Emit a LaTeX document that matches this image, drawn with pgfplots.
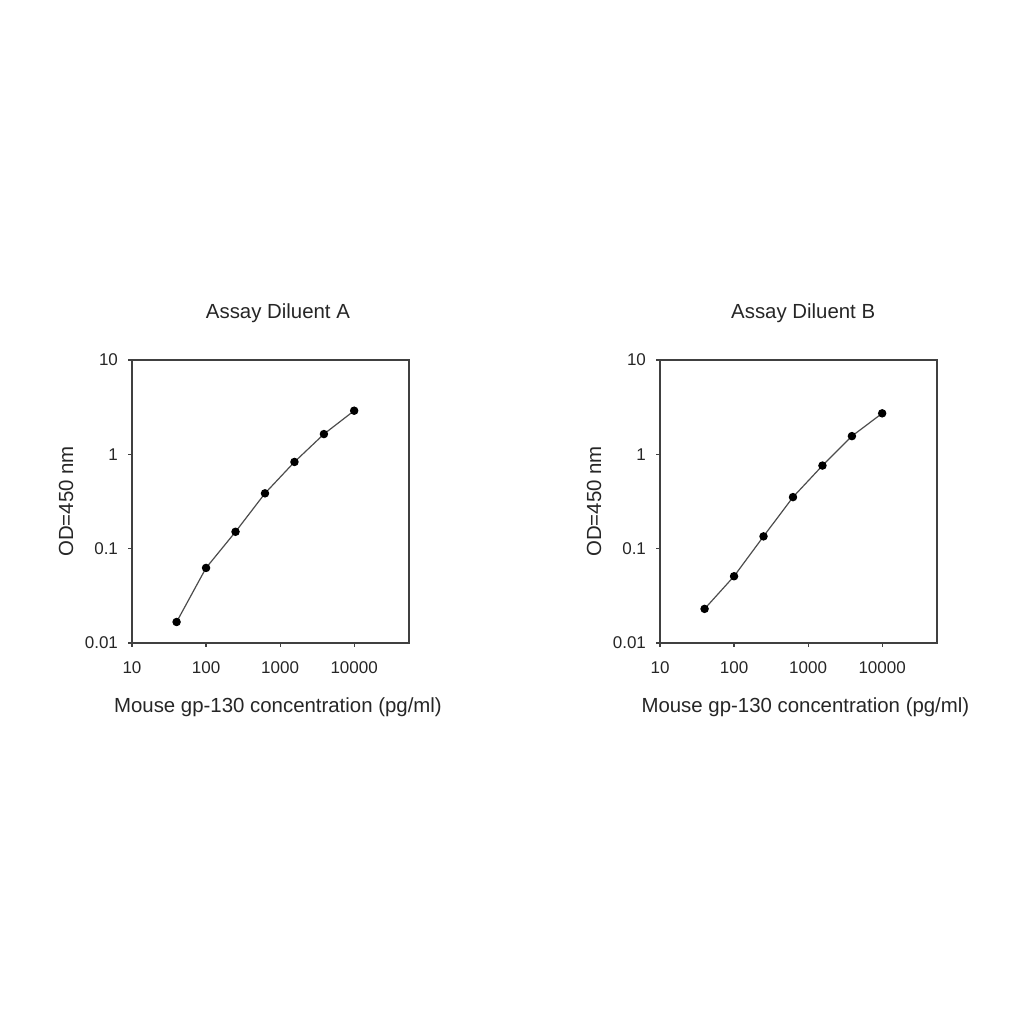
\documentclass[border=0pt]{standalone}
\usepackage{fontspec}
\setmainfont{Liberation Sans}
\usepackage{pgfplots}
\pgfplotsset{compat=1.18}

% shared look of both panels
\pgfplotsset{
    scale only axis, width=138.5pt, height=141.5pt,
    xmin=10, xmax=55000, ymin=0.01, ymax=10,
    xtick={10,100,1000,10000}, xticklabels={10,100,1000,10000},
    ytick={0.01,0.1,1,10}, yticklabels={0.01,0.1,1,10},
    xminorticks=false, yminorticks=false,
    tick align=outside, xtick pos=bottom, ytick pos=left,
    major tick length=2pt,
    axis line style={black!75, line width=0.6pt},
    major tick style={black!75, line width=0.6pt},
    tick label style={font=\fontsize{8.5}{10}\selectfont, black!85},
    xticklabel style={yshift=-4pt},
    yticklabel style={xshift=-1.5pt},
    label style={font=\fontsize{10.2}{12}\selectfont, black!85},
    title style={font=\fontsize{10.2}{12}\selectfont, black!85, anchor=base, yshift=14.8pt},
    xlabel style={anchor=base, yshift=-35pt},
    ylabel style={anchor=center, yshift=33pt},
}

\begin{document}
\begin{tikzpicture}
\path (0,0) rectangle (512pt,512pt);

\begin{loglogaxis}[at={(66pt,190.5pt)}, anchor=south west,
    title={Assay Diluent A}, title style={at={(rel axis cs:0.527,1)}},
    xlabel={Mouse gp-130 concentration (pg/ml)}, ylabel={OD=450 nm},
    xlabel style={at={(rel axis cs:0.527,0)}},
    ylabel style={at={(rel axis cs:0,0.5)}}]
\addplot[black!70, line width=0.6pt, mark=*, mark size=1.8pt,
    mark options={fill=black, draw=black}] coordinates {
(40,0.0167) (100,0.0625) (250,0.151) (625,0.386)
(1562.5,0.83) (3906.25,1.64) (10000,2.9)
};
\end{loglogaxis}

\begin{loglogaxis}[at={(330pt,190.5pt)}, anchor=south west,
    title={Assay Diluent B}, title style={at={(rel axis cs:0.517,1)}},
    xlabel={Mouse gp-130 concentration (pg/ml)}, ylabel={OD=450 nm},
    xlabel style={at={(rel axis cs:0.525,0)}},
    ylabel style={at={(rel axis cs:0,0.5)}}]
\addplot[black!70, line width=0.6pt, mark=*, mark size=1.8pt,
    mark options={fill=black, draw=black}] coordinates {
(40,0.023) (100,0.051) (250,0.135) (625,0.352)
(1562.5,0.76) (3906.25,1.56) (10000,2.72)
};
\end{loglogaxis}
\end{tikzpicture}
\end{document}
